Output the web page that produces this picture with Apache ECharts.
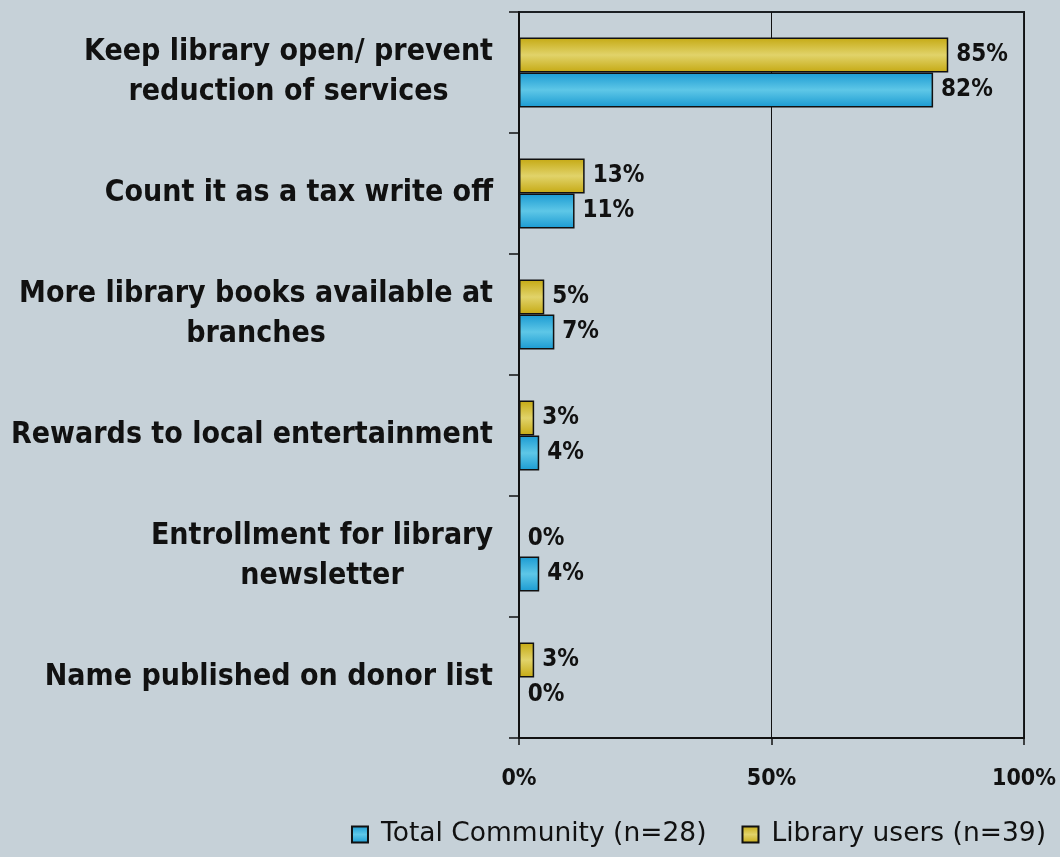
<!DOCTYPE html>
<html>
<head>
<meta charset="utf-8">
<script src="https://cdn.jsdelivr.net/npm/echarts@6/dist/echarts.min.js"></script>
<style>
  html, body { margin: 0; padding: 0; background: #C6D1D8; }
  #chart { width: 1060px; height: 857px; }
</style>
</head>
<body>
<div id="chart"></div>
<script>
// Reasons for donating, share of respondents (%)
const categories = [
  'Keep library open/ prevent\nreduction of services',
  'Count it as a tax write off',
  'More library books available at\nbranches',
  'Rewards to local entertainment',
  'Entrollment for library\nnewsletter',
  'Name published on donor list'
];
const libraryUsers = [85, 13, 5, 3, 0, 3];
const totalCommunity = [82, 11, 7, 4, 4, 0];
const xTicks = [0, 50, 100];

const FONT = "'DejaVu Sans Condensed', 'DejaVu Sans', sans-serif";
const FONT_WIDE = "'DejaVu Sans', sans-serif";

function bandGradient(edge, mid) {
  return new echarts.graphic.LinearGradient(0, 0, 0, 1, [
    { offset: 0, color: edge },
    { offset: 0.5, color: mid },
    { offset: 1, color: edge }
  ]);
}

const labelStyle = {
  show: true,
  position: 'right',
  distance: 8,
  formatter: '{c}%',
  color: '#111',
  fontFamily: FONT,
  fontWeight: 'bold',
  fontSize: 24
};

const chart = echarts.init(document.getElementById('chart'), null, { renderer: 'canvas' });
chart.setOption({
  backgroundColor: '#C6D1D8',
  animation: false,
  grid: {
    left: 519, right: 36, top: 12, bottom: 119,
    show: true, borderColor: '#1b1f22', borderWidth: 2,
    backgroundColor: 'transparent'
  },
  legend: {
    data: ['Total Community (n=28)', 'Library users (n=39)'],
    icon: 'rect',
    right: 9, bottom: 4,
    itemWidth: 16, itemHeight: 16, itemGap: 35,
    textStyle: { fontFamily: FONT_WIDE, fontSize: 26.5, color: '#111', padding: [0, 0, 0, 8] }
  },
  xAxis: {
    type: 'value',
    min: xTicks[0], max: xTicks[xTicks.length - 1], interval: 50,
    axisLine: { show: true, lineStyle: { color: '#111', width: 2 } },
    axisTick: { show: true, length: 7, lineStyle: { color: '#111', width: 1.5 } },
    splitLine: { show: true, lineStyle: { color: '#111', width: 1 } },
    axisLabel: {
      formatter: '{value}%', margin: 30, color: '#111',
      fontFamily: FONT, fontWeight: 'bold', fontSize: 23
    }
  },
  yAxis: {
    type: 'category',
    inverse: true,
    data: categories,
    axisLine: { show: true, lineStyle: { color: '#111', width: 2 } },
    axisTick: { show: true, length: 10, lineStyle: { color: '#111', width: 1.5 } },
    axisLabel: {
      margin: 26,
      align: 'right',
      formatter: function (v) {
        return v.split('\n').map(function (s) { return '{c|' + s + '}'; }).join('\n');
      },
      rich: {
        c: {
          align: 'center',
          fontFamily: FONT, fontWeight: 'bold', fontSize: 30, color: '#111',
          lineHeight: 40
        }
      }
    }
  },
  series: [
    {
      name: 'Library users (n=39)',
      type: 'bar',
      data: libraryUsers,
      barWidth: 35,
      barGap: '0%',
      itemStyle: { color: bandGradient('#C5A912', '#E1D36A'), borderColor: '#111', borderWidth: 1.5 },
      label: labelStyle
    },
    {
      name: 'Total Community (n=28)',
      type: 'bar',
      data: totalCommunity,
      barWidth: 35,
      barGap: '0%',
      itemStyle: { color: bandGradient('#1A9AD2', '#5EC7E7'), borderColor: '#111', borderWidth: 1.5 },
      label: labelStyle
    }
  ]
});
</script>
</body>
</html>
